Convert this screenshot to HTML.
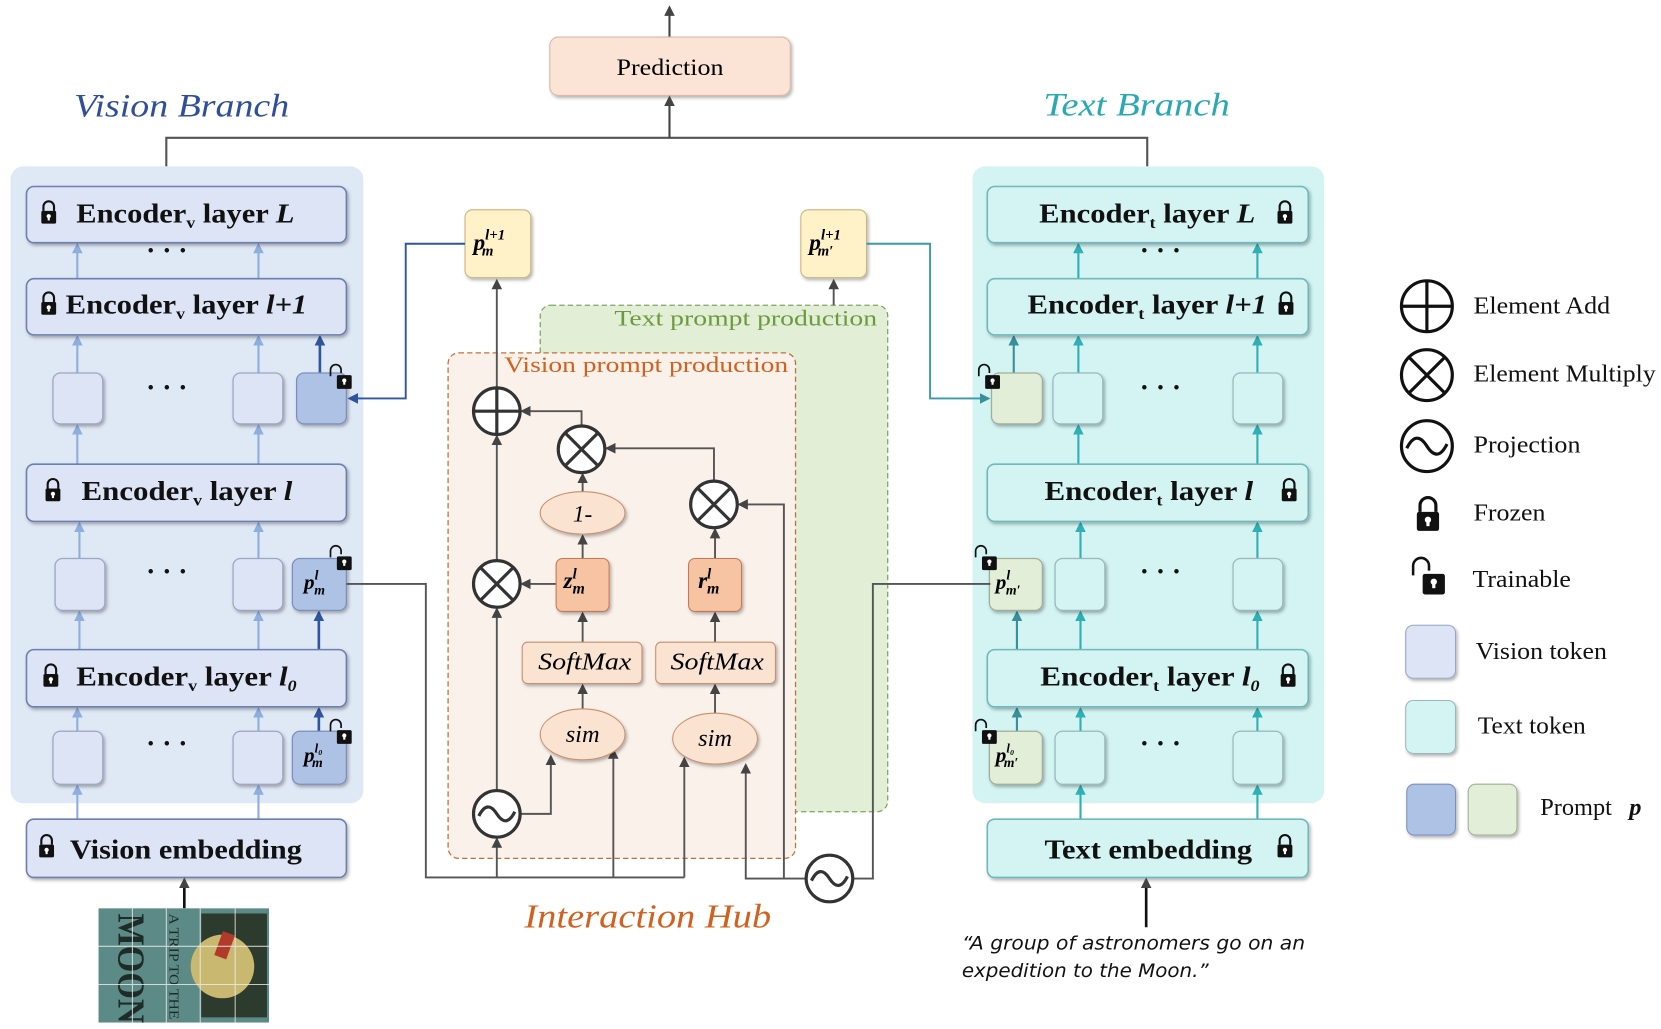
<!DOCTYPE html>
<html><head><meta charset="utf-8"><style>
html,body{margin:0;padding:0;background:#fff;}
svg{display:block;}
.enc{font-family:"Liberation Serif",serif;font-weight:bold;font-size:26px;fill:#111;}
.ser{font-family:"Liberation Serif",serif;}
</style></head><body>
<svg width="1661" height="1029" viewBox="0 0 1568 971" preserveAspectRatio="none" xmlns="http://www.w3.org/2000/svg">
<defs>
<marker id="ak" markerWidth="10" markerHeight="10" refX="8" refY="5" orient="auto" markerUnits="userSpaceOnUse"><path d="M0,0 L10,5 L0,10 z" fill="#444"/></marker>
<marker id="alb" markerWidth="10" markerHeight="10" refX="8" refY="5" orient="auto" markerUnits="userSpaceOnUse"><path d="M0,0 L10,5 L0,10 z" fill="#8eaee0"/></marker>
<marker id="adb" markerWidth="10" markerHeight="10" refX="8" refY="5" orient="auto" markerUnits="userSpaceOnUse"><path d="M0,0 L10,5 L0,10 z" fill="#2f55a0"/></marker>
<marker id="at" markerWidth="10" markerHeight="10" refX="8" refY="5" orient="auto" markerUnits="userSpaceOnUse"><path d="M0,0 L10,5 L0,10 z" fill="#2fb0b5"/></marker>
<marker id="adt" markerWidth="10" markerHeight="10" refX="8" refY="5" orient="auto" markerUnits="userSpaceOnUse"><path d="M0,0 L10,5 L0,10 z" fill="#3a8f9a"/></marker>
<filter id="sh" x="-10%" y="-10%" width="130%" height="140%"><feDropShadow dx="1.5" dy="2" stdDeviation="1.5" flood-color="#000" flood-opacity="0.3"/></filter>
<clipPath id="imgclip"><rect x="93" y="857" width="161" height="108"/></clipPath>
<g id="lock"><path d="M-5,-3 v-4 a5,5 0 0 1 10,0 v4" fill="none" stroke="#111" stroke-width="2"/><rect x="-7" y="-3" width="14" height="12" rx="1.5" fill="#111"/><circle cx="0" cy="2" r="2" fill="#fff"/><rect x="-1" y="2" width="2" height="4" fill="#fff"/></g>
<g id="ulock"><path d="M-12,-6 v-6 a5,5 0 0 1 10,0 v3" fill="none" stroke="#111" stroke-width="1.6"/><rect x="-6" y="-7" width="14" height="13" rx="1.5" fill="#111"/><circle cx="1" cy="-2" r="2" fill="#fff"/><rect x="0" y="-2" width="2" height="4" fill="#fff"/></g>
</defs>

<!-- top -->
<line x1="632" y1="35" x2="632" y2="7" stroke="#444" stroke-width="2" marker-end="url(#ak)"/>
<rect x="519" y="35" width="227" height="55" rx="8" fill="#fbe3d6" stroke="#d9b8a6" filter="url(#sh)"/>
<text x="582" y="71" textLength="101" lengthAdjust="spacingAndGlyphs" class="ser" font-size="22">Prediction</text>
<polyline points="157,157 157,130 1083,130 1083,157" fill="none" stroke="#555" stroke-width="2"/>
<line x1="632" y1="130" x2="632" y2="92" stroke="#444" stroke-width="2" marker-end="url(#ak)"/>
<text x="70" y="110" textLength="203" lengthAdjust="spacingAndGlyphs" class="ser" font-style="italic" font-size="31" fill="#2f4f9a">Vision Branch</text>
<text x="985" y="109" textLength="176" lengthAdjust="spacingAndGlyphs" class="ser" font-style="italic" font-size="31" fill="#2aa9b0">Text Branch</text>

<!-- panels -->
<rect x="10" y="157" width="333" height="601" rx="12" fill="#dfe8f5"/>
<rect x="918" y="157" width="332" height="601" rx="12" fill="#d3f4f3"/>

<!-- vision arrows -->
<g stroke="#8eaee0" stroke-width="2" marker-end="url(#alb)">
<line x1="73" y1="263" x2="73" y2="231"/><line x1="244" y1="263" x2="244" y2="231"/>
<line x1="73" y1="352" x2="73" y2="318"/><line x1="244" y1="352" x2="244" y2="318"/>
<line x1="73" y1="438" x2="73" y2="402"/><line x1="244" y1="438" x2="244" y2="402"/>
<line x1="75" y1="527" x2="75" y2="494"/><line x1="244" y1="527" x2="244" y2="494"/>
<line x1="75" y1="613" x2="75" y2="578"/><line x1="244" y1="613" x2="244" y2="578"/>
<line x1="73" y1="690" x2="73" y2="669"/><line x1="244" y1="690" x2="244" y2="669"/>
<line x1="73" y1="773" x2="73" y2="742"/><line x1="244" y1="773" x2="244" y2="742"/>
</g>
<g stroke="#2f55a0" stroke-width="2.5" marker-end="url(#adb)">
<line x1="302" y1="352" x2="302" y2="318"/><line x1="301" y1="613" x2="301" y2="578"/><line x1="301" y1="690" x2="301" y2="669"/>
</g>
<!-- text arrows -->
<g stroke="#2fb0b5" stroke-width="2" marker-end="url(#at)">
<line x1="1018" y1="263" x2="1018" y2="231"/><line x1="1187" y1="263" x2="1187" y2="231"/>
<line x1="1018" y1="352" x2="1018" y2="318"/><line x1="1187" y1="352" x2="1187" y2="318"/>
<line x1="1018" y1="438" x2="1018" y2="402"/><line x1="1187" y1="438" x2="1187" y2="402"/>
<line x1="1020" y1="527" x2="1020" y2="494"/><line x1="1187" y1="527" x2="1187" y2="494"/>
<line x1="1020" y1="613" x2="1020" y2="578"/><line x1="1187" y1="613" x2="1187" y2="578"/>
<line x1="1020" y1="690" x2="1020" y2="669"/><line x1="1187" y1="690" x2="1187" y2="669"/>
<line x1="1020" y1="773" x2="1020" y2="742"/><line x1="1187" y1="773" x2="1187" y2="742"/>
</g>
<g stroke="#3a8f9a" stroke-width="2" marker-end="url(#adt)">
<line x1="957" y1="352" x2="957" y2="318"/><line x1="960" y1="613" x2="960" y2="578"/><line x1="960" y1="690" x2="960" y2="669"/>
</g>

<!-- vision encoders -->
<g fill="#dce4f5" stroke="#6d7fae" stroke-width="1.5" filter="url(#sh)">
<rect x="25" y="176" width="302" height="53" rx="7"/>
<rect x="25" y="263" width="302" height="53" rx="7"/>
<rect x="25" y="438" width="302" height="54" rx="7"/>
<rect x="25" y="613" width="302" height="54" rx="7"/>
<rect x="25" y="773" width="302" height="55" rx="7"/>
</g>
<use href="#lock" x="46" y="202"/><use href="#lock" x="46" y="288"/><use href="#lock" x="50" y="464"/><use href="#lock" x="48" y="639"/><use href="#lock" x="44" y="800"/>
<text x="72" y="210" textLength="206" lengthAdjust="spacingAndGlyphs" class="enc">Encoder<tspan font-size="15" dy="5">v</tspan><tspan dy="-5"> layer </tspan><tspan font-style="italic">L</tspan></text>
<text x="62" y="296" textLength="228" lengthAdjust="spacingAndGlyphs" class="enc">Encoder<tspan font-size="15" dy="5">v</tspan><tspan dy="-5"> layer </tspan><tspan font-style="italic">l+1</tspan></text>
<text x="77" y="472" textLength="199" lengthAdjust="spacingAndGlyphs" class="enc">Encoder<tspan font-size="15" dy="5">v</tspan><tspan dy="-5"> layer </tspan><tspan font-style="italic">l</tspan></text>
<text x="72" y="647" textLength="208" lengthAdjust="spacingAndGlyphs" class="enc">Encoder<tspan font-size="15" dy="5">v</tspan><tspan dy="-5"> layer </tspan><tspan font-style="italic">l<tspan font-size="15" dy="5">0</tspan></tspan></text>
<text x="66" y="810" textLength="219" lengthAdjust="spacingAndGlyphs" class="enc">Vision embedding</text>
<g class="enc" font-size="22"><text x="138" y="245">· · ·</text><text x="138" y="374">· · ·</text><text x="138" y="548">· · ·</text><text x="138" y="710">· · ·</text></g>

<!-- vision tokens -->
<g fill="#dce4f5" stroke="#9aa7c4" stroke-width="1.2" filter="url(#sh)">
<rect x="50" y="352" width="47" height="48" rx="7"/><rect x="220" y="352" width="47" height="48" rx="7"/>
<rect x="52" y="527" width="47" height="49" rx="7"/><rect x="220" y="527" width="47" height="49" rx="7"/>
<rect x="50" y="690" width="47" height="50" rx="7"/><rect x="220" y="690" width="47" height="50" rx="7"/>
</g>
<g fill="#aec2e6" stroke="#7d8fbb" stroke-width="1.2" filter="url(#sh)">
<rect x="280" y="352" width="47" height="48" rx="7"/><rect x="276" y="527" width="51" height="49" rx="7"/><rect x="276" y="690" width="51" height="50" rx="7"/>
</g>
<use href="#ulock" x="324" y="361"/><use href="#ulock" x="324" y="532"/><use href="#ulock" x="324" y="696"/>
<text x="287" y="556" class="ser" font-weight="bold" font-style="italic" font-size="20">p<tspan font-size="13" dy="-9">l</tspan><tspan font-size="13" dx="-4" dy="14">m</tspan></text>
<text x="287" y="719" class="ser" font-weight="bold" font-style="italic" font-size="20">p<tspan font-size="12" dy="-9">l₀</tspan><tspan font-size="13" dx="-10" dy="14">m</tspan></text>

<!-- text encoders -->
<g fill="#d3f4f3" stroke="#6fb8bc" stroke-width="1.5" filter="url(#sh)">
<rect x="932" y="176" width="303" height="53" rx="7"/>
<rect x="932" y="263" width="303" height="53" rx="7"/>
<rect x="932" y="438" width="303" height="54" rx="7"/>
<rect x="932" y="613" width="303" height="54" rx="7"/>
<rect x="932" y="773" width="303" height="55" rx="7"/>
</g>
<use href="#lock" x="1213" y="202"/><use href="#lock" x="1214" y="288"/><use href="#lock" x="1217" y="464"/><use href="#lock" x="1216" y="639"/><use href="#lock" x="1213" y="800"/>
<text x="981" y="210" textLength="204" lengthAdjust="spacingAndGlyphs" class="enc">Encoder<tspan font-size="15" dy="5">t</tspan><tspan dy="-5"> layer </tspan><tspan font-style="italic">L</tspan></text>
<text x="970" y="296" textLength="226" lengthAdjust="spacingAndGlyphs" class="enc">Encoder<tspan font-size="15" dy="5">t</tspan><tspan dy="-5"> layer </tspan><tspan font-style="italic">l+1</tspan></text>
<text x="986" y="472" textLength="197" lengthAdjust="spacingAndGlyphs" class="enc">Encoder<tspan font-size="15" dy="5">t</tspan><tspan dy="-5"> layer </tspan><tspan font-style="italic">l</tspan></text>
<text x="982" y="647" textLength="207" lengthAdjust="spacingAndGlyphs" class="enc">Encoder<tspan font-size="15" dy="5">t</tspan><tspan dy="-5"> layer </tspan><tspan font-style="italic">l<tspan font-size="15" dy="5">0</tspan></tspan></text>
<text x="986" y="810" textLength="196" lengthAdjust="spacingAndGlyphs" class="enc">Text embedding</text>
<g class="enc" font-size="22"><text x="1076" y="245">· · ·</text><text x="1076" y="374">· · ·</text><text x="1076" y="548">· · ·</text><text x="1076" y="710">· · ·</text></g>
<g fill="#d3f4f3" stroke="#9ab8bc" stroke-width="1.2" filter="url(#sh)">
<rect x="994" y="352" width="47" height="48" rx="7"/><rect x="1164" y="352" width="47" height="48" rx="7"/>
<rect x="996" y="527" width="47" height="49" rx="7"/><rect x="1164" y="527" width="47" height="49" rx="7"/>
<rect x="996" y="690" width="47" height="50" rx="7"/><rect x="1164" y="690" width="47" height="50" rx="7"/>
</g>
<g fill="#e2eed8" stroke="#a3ae98" stroke-width="1.2" filter="url(#sh)">
<rect x="936" y="352" width="48" height="48" rx="7"/><rect x="934" y="527" width="50" height="49" rx="7"/><rect x="934" y="690" width="50" height="50" rx="7"/>
</g>
<use href="#ulock" x="936" y="361"/><use href="#ulock" x="933" y="532"/><use href="#ulock" x="933" y="696"/>
<text x="940" y="556" class="ser" font-weight="bold" font-style="italic" font-size="20">p<tspan font-size="13" dy="-9">l</tspan><tspan font-size="13" dx="-4" dy="14">m′</tspan></text>
<text x="940" y="719" class="ser" font-weight="bold" font-style="italic" font-size="20">p<tspan font-size="12" dy="-9">l₀</tspan><tspan font-size="13" dx="-10" dy="14">m′</tspan></text>

<!-- center regions -->
<rect x="510" y="288" width="328" height="478" rx="10" fill="#e2eed6" stroke="#7ea65c" stroke-width="1.2" stroke-dasharray="5,3"/>
<text x="580" y="307" textLength="248" lengthAdjust="spacingAndGlyphs" class="ser" font-size="21" fill="#6e9a3e">Text prompt production</text>
<rect x="423" y="333" width="328" height="477" rx="10" fill="#fbf1eb" stroke="#c2703a" stroke-width="1.2" stroke-dasharray="5,3"/>
<text x="476" y="351" textLength="268" lengthAdjust="spacingAndGlyphs" class="ser" font-size="21" fill="#d0611e">Vision prompt production</text>

<!-- prompt boxes -->
<rect x="439" y="198" width="62" height="64" rx="7" fill="#fff1c8" stroke="#c9b57d" filter="url(#sh)"/>
<text x="447" y="236" class="ser" font-weight="bold" font-style="italic" font-size="22">p<tspan font-size="14" dy="-10">l+1</tspan><tspan font-size="14" dx="-22" dy="15">m</tspan></text>
<rect x="756" y="198" width="62" height="64" rx="7" fill="#fff1c8" stroke="#c9b57d" filter="url(#sh)"/>
<text x="764" y="236" class="ser" font-weight="bold" font-style="italic" font-size="22">p<tspan font-size="14" dy="-10">l+1</tspan><tspan font-size="14" dx="-22" dy="15">m′</tspan></text>

<!-- connectors -->
<g fill="none" stroke="#2f55a0" stroke-width="1.8"><polyline points="439,230 383,230 383,376 330,376" marker-end="url(#adb)"/></g>
<g fill="none" stroke="#3a9aa5" stroke-width="1.8"><polyline points="818,230 878,230 878,376 933,376" marker-end="url(#adt)"/></g>
<g fill="none" stroke="#555" stroke-width="1.8">
<line x1="787" y1="288" x2="787" y2="265" marker-end="url(#ak)"/>
<polyline points="327,551 402,551 402,828 646,828"/>
<line x1="469" y1="828" x2="469" y2="792" marker-end="url(#ak)"/>
<line x1="579" y1="828" x2="579" y2="708" marker-end="url(#ak)"/>
<line x1="646" y1="828" x2="646" y2="716" marker-end="url(#ak)"/>
<polyline points="491,768 520,768 520,714" marker-end="url(#ak)"/>
<line x1="469" y1="746" x2="469" y2="575" marker-end="url(#ak)"/>
<line x1="469" y1="529" x2="469" y2="412" marker-end="url(#ak)"/>
<line x1="469" y1="366" x2="469" y2="265" marker-end="url(#ak)"/>
<line x1="525" y1="551" x2="493" y2="551" marker-end="url(#ak)"/>
<line x1="550" y1="669" x2="550" y2="647" marker-end="url(#ak)"/>
<line x1="675" y1="673" x2="675" y2="647" marker-end="url(#ak)"/>
<line x1="550" y1="606" x2="550" y2="579" marker-end="url(#ak)"/>
<line x1="675" y1="606" x2="675" y2="579" marker-end="url(#ak)"/>
<line x1="550" y1="527" x2="550" y2="506" marker-end="url(#ak)"/>
<line x1="550" y1="464" x2="550" y2="448" marker-end="url(#ak)"/>
<line x1="675" y1="527" x2="675" y2="500" marker-end="url(#ak)"/>
<polyline points="674,454 674,423 573,423" marker-end="url(#ak)"/>
<polyline points="549,402 549,388 493,388" marker-end="url(#ak)"/>
<polyline points="761,829 704,829 704,722" marker-end="url(#ak)"/>
<polyline points="740,829 740,476 698,476" marker-end="url(#ak)"/>
<polyline points="935,551 824,551 824,829 805,829"/>
<line x1="174" y1="857" x2="174" y2="830" stroke="#111" stroke-width="2.5" marker-end="url(#ak)"/>
<line x1="1082" y1="875" x2="1082" y2="830" stroke="#111" stroke-width="2.5" marker-end="url(#ak)"/>
</g>

<!-- operators -->
<g fill="#fff" stroke="#333" stroke-width="3">
<circle cx="469" cy="388" r="22"/><line x1="447" y1="388" x2="491" y2="388"/><line x1="469" y1="366" x2="469" y2="410"/>
<circle cx="549" cy="424" r="22"/><line x1="533" y1="408" x2="565" y2="440"/><line x1="565" y1="408" x2="533" y2="440"/>
<circle cx="674" cy="476" r="22"/><line x1="658" y1="460" x2="690" y2="492"/><line x1="690" y1="460" x2="658" y2="492"/>
<circle cx="469" cy="551" r="22"/><line x1="453" y1="535" x2="485" y2="567"/><line x1="485" y1="535" x2="453" y2="567"/>
<circle cx="469" cy="768" r="22"/><path d="M452,770 q8,-16 17,-2 q9,14 17,-2" fill="none"/>
<circle cx="783" cy="829" r="22"/><path d="M766,831 q8,-16 17,-2 q9,14 17,-2" fill="none"/>
</g>
<ellipse cx="550" cy="484" rx="40" ry="20" fill="#fbe3d2" stroke="#c8906e" filter="url(#sh)"/>
<text x="550" y="492" text-anchor="middle" class="ser" font-style="italic" font-size="22">1-</text>
<rect x="525" y="527" width="50" height="50" rx="6" fill="#f6c3a3" stroke="#c07a55" filter="url(#sh)"/>
<text x="532" y="555" class="ser" font-weight="bold" font-style="italic" font-size="22">z<tspan font-size="14" dy="-9">l</tspan><tspan font-size="15" dx="-4" dy="14">m</tspan></text>
<rect x="650" y="527" width="50" height="50" rx="6" fill="#f6c3a3" stroke="#c07a55" filter="url(#sh)"/>
<text x="659" y="555" class="ser" font-weight="bold" font-style="italic" font-size="22">r<tspan font-size="14" dy="-9">l</tspan><tspan font-size="15" dx="-4" dy="14">m</tspan></text>
<rect x="493" y="606" width="113" height="39" rx="5" fill="#fbe3d2" stroke="#c8906e" filter="url(#sh)"/>
<text x="508" y="632" textLength="88" lengthAdjust="spacingAndGlyphs" class="ser" font-style="italic" font-size="23">SoftMax</text>
<rect x="619" y="606" width="113" height="39" rx="5" fill="#fbe3d2" stroke="#c8906e" filter="url(#sh)"/>
<text x="633" y="632" textLength="88" lengthAdjust="spacingAndGlyphs" class="ser" font-style="italic" font-size="23">SoftMax</text>
<ellipse cx="550" cy="693" rx="40" ry="24" fill="#fbe3d2" stroke="#c8906e" filter="url(#sh)"/>
<text x="550" y="700" text-anchor="middle" class="ser" font-style="italic" font-size="23">sim</text>
<ellipse cx="675" cy="697" rx="40" ry="24" fill="#fbe3d2" stroke="#c8906e" filter="url(#sh)"/>
<text x="675" y="704" text-anchor="middle" class="ser" font-style="italic" font-size="23">sim</text>
<text x="495" y="875" textLength="233" lengthAdjust="spacingAndGlyphs" class="ser" font-style="italic" font-size="32" fill="#d0611e">Interaction Hub</text>

<!-- image -->
<g clip-path="url(#imgclip)">
<rect x="93" y="857" width="161" height="108" fill="#5c8a86"/>
<rect x="190" y="862" width="62" height="98" fill="#2d3a2e"/>
<circle cx="210" cy="912" r="30" fill="#c9b870"/>
<rect x="206" y="880" width="12" height="24" fill="#b23a2a" transform="rotate(20 212 892)"/>
<text x="0" y="0" transform="translate(112,862) rotate(90)" class="ser" font-weight="bold" font-size="36" textLength="104" lengthAdjust="spacingAndGlyphs" fill="#1d2c28">MOON</text>
<text x="0" y="0" transform="translate(160,862) rotate(90)" class="ser" font-size="13" textLength="100" lengthAdjust="spacingAndGlyphs" fill="#1d2c28">A TRIP TO THE</text>
<g stroke="#eee" stroke-width="1" opacity="0.8">
<line x1="93" y1="893" x2="254" y2="893"/><line x1="93" y1="929" x2="254" y2="929"/>
<line x1="125" y1="857" x2="125" y2="965"/><line x1="157" y1="857" x2="157" y2="965"/><line x1="189" y1="857" x2="189" y2="965"/><line x1="222" y1="857" x2="222" y2="965"/>
</g>
</g>
<text x="908" y="896" textLength="324" lengthAdjust="spacingAndGlyphs" font-family="DejaVu Sans,sans-serif" font-style="italic" font-size="18" fill="#111">“A group of astronomers go on an</text>
<text x="908" y="922" textLength="233" lengthAdjust="spacingAndGlyphs" font-family="DejaVu Sans,sans-serif" font-style="italic" font-size="18" fill="#111">expedition to the Moon.”</text>

<!-- legend -->
<g fill="none" stroke="#111" stroke-width="3">
<circle cx="1347" cy="289" r="24"/><line x1="1323" y1="289" x2="1371" y2="289"/><line x1="1347" y1="265" x2="1347" y2="313"/>
<circle cx="1347" cy="354" r="24"/><line x1="1330" y1="337" x2="1364" y2="371"/><line x1="1364" y1="337" x2="1330" y2="371"/>
<circle cx="1347" cy="421" r="24"/><path d="M1328,423 q9,-18 19,-2 q10,16 19,-2"/>
</g>
<use href="#lock" x="1348" y="487" transform="translate(-674,-243) scale(1.5)" />
<use href="#ulock" x="1352" y="552" transform="translate(-676,-276) scale(1.5)"/>
<rect x="1327" y="590" width="47" height="50" rx="7" fill="#dce4f5" stroke="#9aa7c4" filter="url(#sh)"/>
<rect x="1327" y="661" width="47" height="50" rx="7" fill="#d3f4f3" stroke="#9ab8bc" filter="url(#sh)"/>
<rect x="1328" y="740" width="46" height="48" rx="7" fill="#aec2e6" stroke="#7d8fbb" filter="url(#sh)"/>
<rect x="1386" y="740" width="46" height="48" rx="7" fill="#e2eed8" stroke="#a3ae98" filter="url(#sh)"/>
<g class="ser" font-size="23" fill="#111">
<text x="1391" y="296" textLength="129" lengthAdjust="spacingAndGlyphs">Element Add</text>
<text x="1391" y="360" textLength="172" lengthAdjust="spacingAndGlyphs">Element Multiply</text>
<text x="1391" y="427" textLength="101" lengthAdjust="spacingAndGlyphs">Projection</text>
<text x="1391" y="491" textLength="68" lengthAdjust="spacingAndGlyphs">Frozen</text>
<text x="1390" y="554" textLength="93" lengthAdjust="spacingAndGlyphs">Trainable</text>
<text x="1393" y="622" textLength="124" lengthAdjust="spacingAndGlyphs">Vision token</text>
<text x="1395" y="692" textLength="102" lengthAdjust="spacingAndGlyphs">Text token</text>
<text x="1454" y="769">Prompt</text>
<text x="1538" y="769" font-weight="bold" font-style="italic">p</text>
</g>
</svg>
</body></html>
